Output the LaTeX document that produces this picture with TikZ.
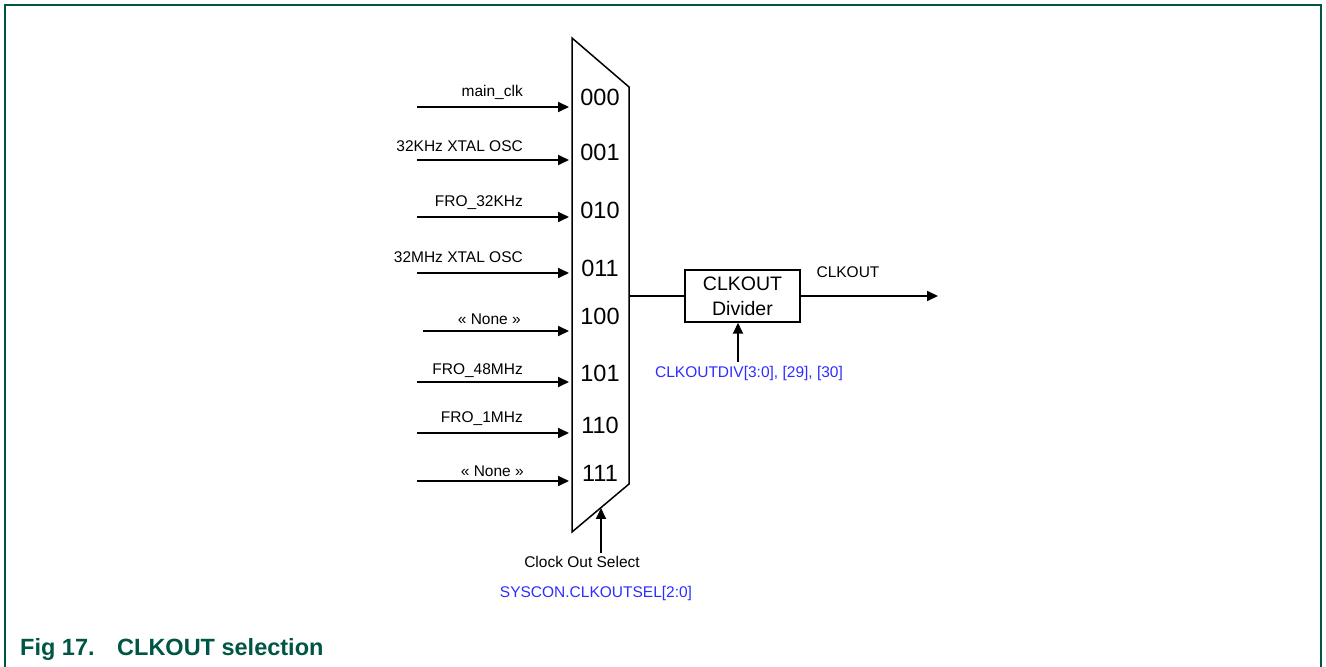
\documentclass[tikz,border=0pt]{standalone}
\usepackage{fontspec}
\setmainfont{Liberation Sans}
\usetikzlibrary{positioning}
\usetikzlibrary{arrows.meta}
\definecolor{nxpGreen}{RGB}{0,86,68}
\definecolor{regBlue}{RGB}{45,45,255}

\begin{document}
\begin{tikzpicture}
    [x=1pt, y=1pt,
     muxCode/.style={font=\fontsize{23.5}{24}\selectfont, inner sep=0pt},
     srcLabel/.style={font=\fontsize{15.5}{16}\selectfont, inner sep=0pt, anchor=base east},
     plainLabel/.style={font=\fontsize{15.5}{16}\selectfont, inner sep=0pt},
     regLabel/.style={font=\fontsize{15.5}{16}\selectfont, inner sep=0pt, text=regBlue},
     sigArrow/.style={-{Triangle[length=11pt, width=10pt]}, line width=1.8pt},
     divBox/.style={draw, line width=1.5pt, minimum width=115pt, minimum height=52pt, align=center, font=\fontsize{19.5}{25}\selectfont},
     figText/.style={font=\bfseries\fontsize{23.5}{24}\selectfont, text=nxpGreen, inner sep=0pt, anchor=base west},
    ]

    \useasboundingbox (0,0) rectangle (1326,667);
    \draw[nxpGreen, line width=2pt] (4.5,0) |- (1321,661.5) -- (1321,0);

    % multiplexer body
    \coordinate (muxTL) at (572,629);
    \coordinate (muxTR) at (629,580);
    \coordinate (muxBR) at (629,183);
    \coordinate (muxBL) at (572,135);
    \draw[line width=1.5pt, line join=miter] (muxTL) -- (muxTR) -- (muxBR) -- (muxBL) -- cycle;

    % clock sources
    \coordinate (src0) at (417,560);
    \coordinate (pin0) at (569,560);
    \node[srcLabel] (lbl0) at (523,570.3) {main\_clk};
    \node[muxCode] (code0) at (600,570) {000};
    \draw[sigArrow] (src0) -- (pin0);

    \coordinate (src1) at (417,507);
    \coordinate (pin1) at (pin0 |- src1);
    \node[srcLabel] (lbl1) at (523,515.3) {32KHz XTAL OSC};
    \node[muxCode] (code1) at (600,514.5) {001};
    \draw[sigArrow] (src1) -- (pin1);

    \coordinate (src2) at (417,450);
    \coordinate (pin2) at (pin0 |- src2);
    \node[srcLabel] (lbl2) at (523,460) {FRO\_32KHz};
    \node[muxCode] (code2) at (600,457) {010};
    \draw[sigArrow] (src2) -- (pin2);

    \coordinate (src3) at (417,394);
    \coordinate (pin3) at (pin0 |- src3);
    \node[srcLabel] (lbl3) at (523,404) {32MHz XTAL OSC};
    \node[muxCode] (code3) at (600,399) {011};
    \draw[sigArrow] (src3) -- (pin3);

    \coordinate (src4) at (423,336);
    \coordinate (pin4) at (pin0 |- src4);
    \node[srcLabel] (lbl4) at (521,342) {« None »};
    \node[muxCode] (code4) at (600,350.5) {100};
    \draw[sigArrow] (src4) -- (pin4);

    \coordinate (src5) at (417,285);
    \coordinate (pin5) at (pin0 |- src5);
    \node[srcLabel] (lbl5) at (523,292) {FRO\_48MHz};
    \node[muxCode] (code5) at (600,293.5) {101};
    \draw[sigArrow] (src5) -- (pin5);

    \coordinate (src6) at (417,234);
    \coordinate (pin6) at (pin0 |- src6);
    \node[srcLabel] (lbl6) at (523,244) {FRO\_1MHz};
    \node[muxCode] (code6) at (600,242) {110};
    \draw[sigArrow] (src6) -- (pin6);

    \coordinate (src7) at (417,186);
    \coordinate (pin7) at (pin0 |- src7);
    \node[srcLabel] (lbl7) at (524,190) {« None »};
    \node[muxCode] (code7) at (600,193.5) {111};
    \draw[sigArrow] (src7) -- (pin7);

    % select input
    \coordinate (selIn) at (601,114);
    \coordinate (selPin) at (601,159);
    \draw[sigArrow] (selIn) -- (selPin);
    \node[plainLabel] (selLabel) at (582,105) {Clock Out Select};
    \node[regLabel] (selReg) at (596,73.5) {SYSCON.CLKOUTSEL[2:0]};

    % divider and output
    \node[divBox] (divider) at (742.5,371) {CLKOUT\\Divider};
    \coordinate (muxOut) at (muxTR |- divider);
    \draw[line width=1.5pt] (muxOut) -- (divider);
    \coordinate (clkOut) at (938,371);
    \draw[sigArrow] (divider) -- (clkOut);
    \node[plainLabel] (outLabel) at (848,395) {CLKOUT};
    \coordinate (divCtl) at (738,305);
    \draw[sigArrow] (divCtl) -- (divCtl |- divider.south);
    \node[regLabel] (divReg) at (749,293.5) {CLKOUTDIV[3:0], [29], [30]};

    % caption
    \node[figText] (figNum) at (20,12) {Fig 17.};
    \node[figText] (figTitle) at (117,12) {CLKOUT selection};

\end{tikzpicture}
\end{document}
